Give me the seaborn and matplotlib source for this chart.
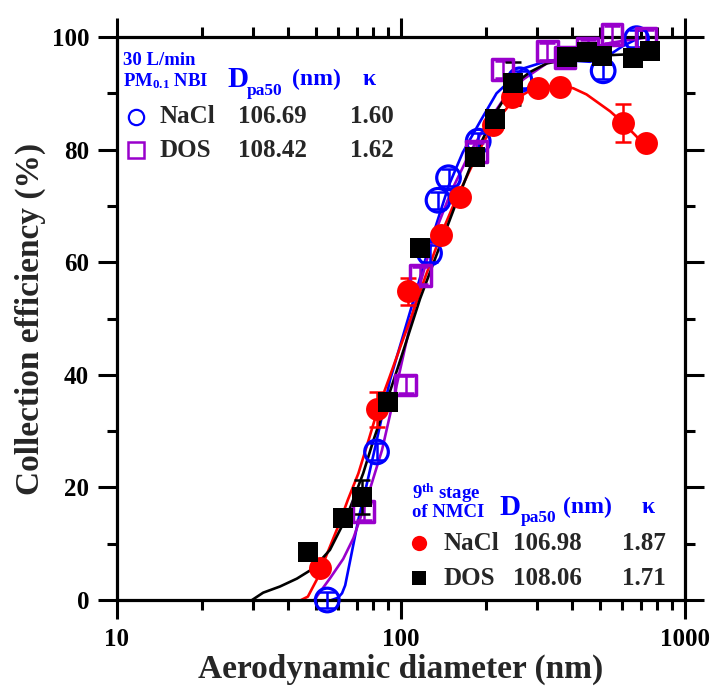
import numpy as np
import matplotlib
matplotlib.use("Agg")
import matplotlib.pyplot as plt
import seaborn as sns
from matplotlib.ticker import LogLocator, NullFormatter, MultipleLocator

# ---- data ----
# 30 L/min PM0.1 NBI, NaCl (open blue circles)
nbi_nacl_x = [55, 82, 126, 135, 147, 187, 262, 515, 675]
nbi_nacl_y = [0, 26.3, 61.6, 71.0, 75.0, 81.5, 92.4, 94.0, 99.7]
nbi_nacl_err = [1.5, 1.5, 1.5, 1.5, 1.5, 1.5, 1.5, 1.5, 1.5]

# 30 L/min PM0.1 NBI, DOS (open purple squares)
nbi_dos_x = [74, 104, 117, 184, 228, 327, 378, 455, 553, 729]
nbi_dos_y = [15.7, 38.2, 57.7, 79.6, 94.2, 97.5, 96.3, 98.0, 100.5, 99.7]
nbi_dos_err = [1.5, 1.5, 1.5, 1.5, 1.5, 1.5, 1.5, 1.5, 1.5, 1.5]

# 9th stage of NMCI, NaCl (red filled circles)
nmci_nacl_x = [52, 82, 106, 138, 161, 211, 245, 303, 363, 607, 727]
nmci_nacl_y = [5.6, 33.9, 54.8, 64.8, 71.6, 84.4, 89.4, 90.9, 91.2, 84.7, 81.1]
nmci_nacl_err = [1.0, 3.1, 2.4, 1.0, 1.0, 1.0, 1.0, 1.0, 1.0, 3.4, 1.0]

# 9th stage of NMCI, DOS (black filled squares)
nmci_dos_x = [47, 62.7, 72.8, 90.2, 116.7, 182, 214, 248, 383, 452, 510, 656, 753]
nmci_dos_y = [8.5, 14.5, 18.3, 35.2, 62.5, 78.7, 85.5, 91.8, 96.5, 97.3, 96.6, 96.3, 97.5]
nmci_dos_err = [1.0, 1.0, 3.0, 1.0, 1.0, 1.0, 1.0, 3.8, 1.0, 1.0, 1.0, 1.0, 1.0]

# fitted curves
fit_nbi_nacl_x = [57, 60, 62, 63.6, 66.1, 68.8, 70.7, 75.7, 81, 91.4, 100, 110, 124.7, 147, 165, 190, 217, 269, 330, 400, 463, 530, 600, 680, 750]
fit_nbi_nacl_y = [0, 0.4, 1.2, 2.6, 6.8, 11.2, 14.2, 20.5, 27.0, 39.0, 45.7, 52.8, 62.2, 73.5, 79.5, 85.0, 90.0, 94.4, 95.8, 95.8, 95.6, 96.5, 98.3, 99.7, 100.3]

fit_nbi_dos_x = [49.5, 52, 56.5, 62.6, 68, 75.7, 85.7, 94, 103, 113.5, 130, 150, 175, 200, 230, 270, 330, 420, 550, 750]
fit_nbi_dos_y = [0, 1.5, 4.0, 7.3, 11.0, 17.8, 26.6, 35.5, 44.5, 53.9, 64.5, 72.5, 79.5, 84.5, 89.0, 92.5, 95.5, 97.5, 99.0, 100.0]

fit_nmci_nacl_x = [44.5, 47, 50.5, 55, 60, 65, 70.8, 77, 83, 91, 100, 110, 122, 138, 155, 175, 195, 220, 248, 285, 326, 365, 404, 450, 489, 545, 607, 670, 740]
fit_nmci_nacl_y = [0, 0.6, 3.6, 8.3, 13.0, 17.8, 22.5, 28.5, 34.0, 39.5, 45.3, 51.0, 57.5, 64.8, 70.8, 76.4, 81.3, 85.5, 88.7, 90.5, 91.2, 91.3, 90.9, 89.8, 88.5, 86.8, 84.7, 82.5, 80.2]

fit_nmci_dos_x = [29.9, 32.7, 37.5, 43, 49.1, 56.2, 64.4, 73.6, 80, 90.2, 100, 116.7, 135, 155, 182, 215, 248, 285, 326, 427, 558, 750]
fit_nmci_dos_y = [0, 1.3, 2.4, 3.8, 5.6, 8.9, 14.8, 22.5, 28.4, 36.1, 43.0, 53.5, 62.0, 70.0, 79.0, 86.5, 91.5, 93.8, 95.3, 96.5, 96.8, 97.1]

x_ticks = [10, 100, 1000]
x_tick_labels = ["10", "100", "1000"]
y_ticks = [0, 20, 40, 60, 80, 100]

BLUE = "#0000ff"
PURPLE = "#9900cc"
RED = "#ff0000"
BLACK = "#000000"

sns.set_style("ticks")
plt.rcParams["font.family"] = ["Liberation Serif", "DejaVu Serif"]
plt.rcParams["font.weight"] = "bold"
plt.rcParams["mathtext.fontset"] = "custom"
plt.rcParams["mathtext.rm"] = "Liberation Serif:bold"
plt.rcParams["mathtext.bf"] = "Liberation Serif:bold"
plt.rcParams["mathtext.it"] = "Liberation Serif:bold"

fig = plt.figure(figsize=(7.1, 6.9), dpi=100)
ax = fig.add_axes([117 / 710, 90 / 690, 568 / 710, 563 / 690])

# fit curves
for fx, fy, c in [(fit_nbi_nacl_x, fit_nbi_nacl_y, BLUE),
                  (fit_nbi_dos_x, fit_nbi_dos_y, PURPLE),
                  (fit_nmci_nacl_x, fit_nmci_nacl_y, RED),
                  (fit_nmci_dos_x, fit_nmci_dos_y, BLACK)]:
    sns.lineplot(x=fx, y=fy, color=c, linewidth=1.9, ax=ax, zorder=2)

# error bars
for ex, ey, ee, c in [(nbi_nacl_x, nbi_nacl_y, nbi_nacl_err, BLUE),
                      (nbi_dos_x, nbi_dos_y, nbi_dos_err, PURPLE),
                      (nmci_nacl_x, nmci_nacl_y, nmci_nacl_err, RED),
                      (nmci_dos_x, nmci_dos_y, nmci_dos_err, BLACK)]:
    ax.errorbar(ex, ey, yerr=ee, fmt="none", ecolor=c, elinewidth=1.8,
                capsize=6, capthick=1.8, zorder=3, clip_on=False)

# markers
sns.scatterplot(x=nbi_nacl_x, y=nbi_nacl_y, marker="o", s=17 ** 2,
                facecolors="none", edgecolor=BLUE, linewidth=2.3, ax=ax, zorder=4, clip_on=False)
sns.scatterplot(x=nbi_dos_x, y=nbi_dos_y, marker="s", s=15 ** 2,
                facecolors="none", edgecolor=PURPLE, linewidth=2.5, ax=ax, zorder=5, clip_on=False)
sns.scatterplot(x=nmci_nacl_x, y=nmci_nacl_y, marker="o", s=16.5 ** 2,
                color=RED, edgecolor=RED, linewidth=0, ax=ax, zorder=6, clip_on=False)
sns.scatterplot(x=nmci_dos_x, y=nmci_dos_y, marker="s", s=14 ** 2,
                color=BLACK, edgecolor=BLACK, linewidth=0, ax=ax, zorder=7, clip_on=False)

# axes
ax.set_xscale("log")
ax.set_xlim(10, 1000)
ax.set_ylim(0, 100)
ax.set_xticks(x_ticks)
ax.set_xticklabels(x_tick_labels)
ax.xaxis.set_minor_locator(LogLocator(base=10, subs=np.arange(2, 10)))
ax.xaxis.set_minor_formatter(NullFormatter())
ax.set_yticks(y_ticks)
ax.yaxis.set_minor_locator(MultipleLocator(10))

for sp in ax.spines.values():
    sp.set_visible(True)
    sp.set_linewidth(2.3)
    sp.set_color("black")

ax.tick_params(which="both", direction="out", top=True, right=True, width=2.2,
               colors="black", labelsize=18)
ax.tick_params(which="major", length=14, pad=6)
ax.tick_params(which="minor", length=7.5)
for lab in ax.get_xticklabels() + ax.get_yticklabels():
    lab.set_fontweight("bold")

ax.set_xlabel("Aerodynamic diameter (nm)", fontsize=24, fontweight="bold")
ax.set_ylabel("Collection efficiency (%)", fontsize=24, fontweight="bold")
ax.xaxis.set_label_coords(0.5, -0.095)
ax.yaxis.set_label_coords(-0.125, 0.5)

T = ax.transAxes


def dpa50_header(x0, y0, x_sub, x_nm, x_kappa):
    ax.text(x0, y0, "D", color=BLUE, fontsize=21, fontweight="bold",
            transform=T, va="center", ha="left")
    ax.text(x_sub, y0 - 0.02, "pa50", color=BLUE, fontsize=12.5, fontweight="bold",
            transform=T, va="center", ha="left")
    ax.text(x_nm, y0, "(nm)", color=BLUE, fontsize=17, fontweight="bold",
            transform=T, va="center", ha="left")
    ax.text(x_kappa, y0, "κ", color=BLUE, fontsize=17, fontweight="bold",
            transform=T, va="center", ha="left")


# legend block, top left
ax.text(0.011, 0.959, "30 L/min", color=BLUE, fontsize=13.5, fontweight="bold",
        transform=T, va="center", ha="left")
ax.text(0.011, 0.922, r"PM$_{\mathbf{0.1}}$ NBI", color=BLUE, fontsize=13.5,
        fontweight="bold", transform=T, va="center", ha="left")
dpa50_header(0.194, 0.924, 0.229, 0.308, 0.433)
ax.plot([0.033], [0.858], marker="o", ms=11, mfc="none", mec=BLUE, mew=1.6,
        transform=T, clip_on=False)
ax.plot([0.033], [0.799], marker="s", ms=11.5, mfc="none", mec=PURPLE, mew=1.8,
        transform=T, clip_on=False)
for yy, name, d50, kap in [(0.858, "NaCl", "106.69", "1.60"),
                           (0.799, "DOS", "108.42", "1.62")]:
    ax.text(0.0757, yy, name, fontsize=18, fontweight="bold", transform=T, va="center")
    ax.text(0.213, yy, d50, fontsize=18, fontweight="bold", transform=T, va="center")
    ax.text(0.410, yy, kap, fontsize=18, fontweight="bold", transform=T, va="center")

# legend block, bottom right
ax.text(0.519, 0.190, r"9$^{\mathbf{th}}$ stage", color=BLUE, fontsize=13.5,
        fontweight="bold", transform=T, va="center", ha="left")
ax.text(0.519, 0.156, "of NMCI", color=BLUE, fontsize=13.5, fontweight="bold",
        transform=T, va="center", ha="left")
dpa50_header(0.674, 0.165, 0.710, 0.785, 0.924)
ax.plot([0.532], [0.101], marker="o", ms=11, mfc=RED, mec=RED, mew=0,
        transform=T, clip_on=False)
ax.plot([0.532], [0.039], marker="s", ms=10.5, mfc=BLACK, mec=BLACK, mew=0,
        transform=T, clip_on=False)
for yy, name, d50, kap in [(0.101, "NaCl", "106.98", "1.87"),
                           (0.039, "DOS", "108.06", "1.71")]:
    ax.text(0.574, yy, name, fontsize=18, fontweight="bold", transform=T, va="center")
    ax.text(0.697, yy, d50, fontsize=18, fontweight="bold", transform=T, va="center")
    ax.text(0.889, yy, kap, fontsize=18, fontweight="bold", transform=T, va="center")

fig.savefig("out.png", dpi=100)
